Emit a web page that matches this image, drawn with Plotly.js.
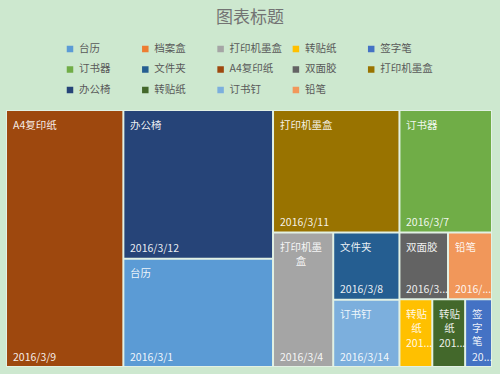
<!DOCTYPE html>
<html><head><meta charset="utf-8">
<script src="https://cdn.plot.ly/plotly-3.0.1.min.js"></script>
<style>html,body{margin:0;padding:0;background:#cde8cf;}#chart{width:500px;height:374px;}</style>
</head><body><div id="chart"></div>
<script>
// ---- data ----
const names  = ['台历','档案盒','打印机墨盒','转贴纸','签字笔','订书器','文件夹','A4复印纸','双面胶','打印机墨盒','办公椅','转贴纸','订书钉','铅笔'];
const dates  = ['2016/3/1','2016/3/2','2016/3/4','2016/3/5','2016/3/6','2016/3/7','2016/3/8','2016/3/9','2016/3/10','2016/3/11','2016/3/12','2016/3/13','2016/3/14','2016/3/15'];
const values = [160, 0, 80, 22, 18, 112, 44, 298, 32, 153, 220, 22, 44, 29];
const colors = ['#5B9BD5','#ED7D31','#A5A5A5','#FFC000','#4472C4','#70AD47','#255E91','#9E480E','#636363','#997300','#264478','#43682B','#7CAFDD','#F1975A'];
const title  = '图表标题';

// ---- geometry ----
const FIG_W = 500, FIG_H = 374;
const M = {l: 6, r: 8, t: 30, b: 7};
const PLOT_H = FIG_H - M.t - M.b;          // whole plotting band
const TM_TOP = 110;                         // top of the treemap area (px)
const W = FIG_W - M.l - M.r, H = FIG_H - M.b - TM_TOP;
const LEG_BOTTOM = 104;                     // bottom of legend band (px)
const FONT = '"Noto Sans CJK SC", "Noto Sans", sans-serif';
const LABEL_SIZE = 10.5;
const LINE_H = LABEL_SIZE * 1.3;
const LEG = {left: 70, top: 49, colW: 75.3, rowH: 20.5, perRow: 5, textGap: 9};

function layoutTreemap(vals, W, H, ratio) {
  const items = vals.map((v, i) => ({i, v})).filter(d => d.v > 0).sort((a, b) => b.v - a.v);
  const total = items.reduce((s, d) => s + d.v, 0);
  const k = W * H / total;
  items.forEach(d => d.a = d.v * k);
  let x0 = 0, y0 = 0, x1 = W, y1 = H, i0 = 0;
  const n = items.length, rects = {};
  while (i0 < n) {
    const dx = x1 - x0, dy = y1 - y0;
    let i1, alongX;
    if (i0 > 0 && n - i0 <= 3) { i1 = n; alongX = dx >= dy; }
    else {
      const L = Math.min(dx, dy);
      const m = (s, mn, mx) => Math.max(ratio * L * L * mx / (s * s), s * s / (L * L * mn * ratio));
      let s = items[i0].a, mn = s, mx = s, worst = m(s, mn, mx);
      i1 = i0 + 1;
      while (i1 < n) {
        const a = items[i1].a, s2 = s + a, mn2 = Math.min(mn, a), mx2 = Math.max(mx, a);
        const w2 = m(s2, mn2, mx2);
        if (w2 > worst) break;
        s = s2; mn = mn2; mx = mx2; worst = w2; i1++;
      }
      alongX = dx < dy;
    }
    const row = items.slice(i0, i1);
    const s = row.reduce((t, d) => t + d.a, 0);
    if (alongX) {
      const h = s / dx; let x = x0;
      row.forEach(d => { const w = d.a / h; rects[d.i] = [x, y0, x + w, y0 + h]; x += w; });
      y0 += h;
    } else {
      const w = s / dy; let y = y0;
      row.forEach(d => { const h = d.a / w; rects[d.i] = [x0, y, x0 + w, y + h]; y += h; });
      x0 += w;
    }
    i0 = i1;
  }
  return rects;
}

const ctx = document.createElement('canvas').getContext('2d');
ctx.font = LABEL_SIZE + 'px ' + FONT;
const tw = s => ctx.measureText(s).width;
function wrapChars(text, maxW) {
  const lines = []; let cur = '';
  for (const ch of text) {
    if (cur && tw(cur + ch) > maxW) { lines.push(cur); cur = ch; } else cur += ch;
  }
  if (cur) lines.push(cur);
  return lines;
}
function truncate(text, maxW) {
  if (tw(text) <= maxW) return text;
  for (let k = text.length - 1; k >= 1; k--) {
    const t = text.slice(0, k) + '...';
    if (tw(t) <= maxW) return t;
  }
  return text[0] + '...';
}

// ---- treemap tiles ----
const rects = layoutTreemap(values, W, H, 0.8);
const G = 1, PADL = 4;
const traces = [], annotations = [];
const txtColor = 'rgba(255,255,255,0.92)';
names.forEach((nm, i) => {
  const r = rects[i];
  if (!r) return;
  const x0 = r[0] + G, y0 = r[1] + G, x1 = r[2] - G, y1 = r[3] - G;
  traces.push({type: 'scatter', mode: 'lines', x: [x0, x1, x1, x0, x0], y: [y0, y0, y1, y1, y0],
    xaxis: 'x', yaxis: 'y',
    fill: 'toself', fillcolor: colors[i], line: {width: 0, color: colors[i]},
    name: nm + ' ' + dates[i], showlegend: false, hoverinfo: 'name'});
  const availName = (x1 - x0) - PADL - 3;
  const lines = wrapChars(nm, availName);
  annotations.push({x: x0 + PADL, y: y0 + 3.5, xref: 'x', yref: 'y', xanchor: 'left', yanchor: 'top',
    align: 'center', showarrow: false, text: lines.join('<br>'),
    font: {family: FONT, size: LABEL_SIZE, color: txtColor}});
  const dt = truncate(dates[i], (x1 - x0) - PADL);
  const nameBottom = y0 + 3.5 + lines.length * LINE_H + 2;
  let dateBottom = y1 - 0.5;
  const narrow = (x1 - x0) < 40;
  if (narrow && dateBottom - LINE_H - 2 - LINE_H >= nameBottom) dateBottom -= LINE_H;
  annotations.push({x: x0 + PADL, y: dateBottom, xref: 'x', yref: 'y', xanchor: 'left', yanchor: 'bottom',
    align: 'left', showarrow: false, text: dt,
    font: {family: FONT, size: LABEL_SIZE, color: txtColor}});
});

// ---- legend (one key per category, in data order) ----
const legX = names.map((_, i) => LEG.left + (i % LEG.perRow) * LEG.colW);
const legY = names.map((_, i) => LEG.top + Math.floor(i / LEG.perRow) * LEG.rowH);
traces.push({type: 'scatter', mode: 'markers', x: legX, y: legY, xaxis: 'x2', yaxis: 'y2',
  marker: {symbol: 'square', size: 6.5, color: colors, line: {width: 0}},
  showlegend: false, hoverinfo: 'skip', cliponaxis: false});
traces.push({type: 'scatter', mode: 'text', x: legX.map(x => x + LEG.textGap), y: legY, xaxis: 'x2', yaxis: 'y2',
  text: names, textposition: 'middle right', marker: {size: 0},
  textfont: {family: FONT, size: 10.5, color: '#595959'},
  showlegend: false, hoverinfo: 'skip', cliponaxis: false});

const tmTopFrac = (FIG_H - M.b - TM_TOP) / PLOT_H;
const legBotFrac = (FIG_H - M.b - LEG_BOTTOM) / PLOT_H;
const layout = {
  width: FIG_W, height: FIG_H, margin: M,
  paper_bgcolor: '#cde8cf', plot_bgcolor: 'rgba(0,0,0,0)',
  xaxis: {range: [0, W], visible: false, fixedrange: true, domain: [0, 1]},
  yaxis: {range: [H, 0], visible: false, fixedrange: true, domain: [0, tmTopFrac]},
  xaxis2: {range: [M.l, FIG_W - M.r], visible: false, fixedrange: true, domain: [0, 1], anchor: 'y2'},
  yaxis2: {range: [LEG_BOTTOM, M.t], visible: false, fixedrange: true, domain: [legBotFrac, 1], anchor: 'x2'},
  title: {text: title, font: {family: FONT, size: 17, color: '#737373'}, x: 0.5, xref: 'container', xanchor: 'center',
    y: 1 - 17 / FIG_H, yref: 'container', yanchor: 'middle'},
  shapes: [{type: 'rect', xref: 'paper', yref: 'paper', x0: 0, x1: 1, y0: 0, y1: tmTopFrac,
    fillcolor: '#e2f1e4', line: {width: 0}, layer: 'below'}],
  showlegend: false, annotations: annotations, hovermode: 'closest'
};
Plotly.newPlot('chart', traces, layout, {displayModeBar: false});
</script></body></html>
